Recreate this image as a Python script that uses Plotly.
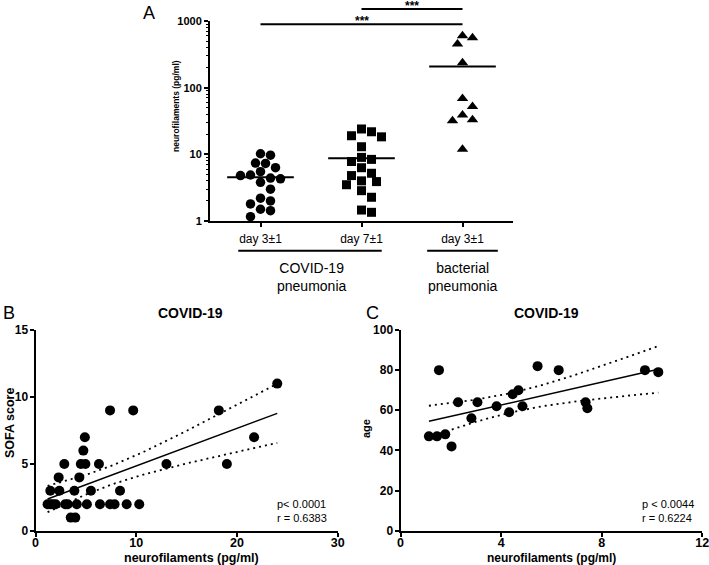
import numpy as np
import plotly.graph_objects as go

# ---------------- Data ----------------
# Panel A: neurofilaments (pg/ml) per group
cat_labels = ["day 3±1", "day 7±1", "day 3±1"]
covid_d3 = [9.7, 10.2, 7.3, 7.4, 6.3, 5.5, 4.8, 4.3, 4.4, 4.9, 3.8, 3.0, 2.0, 2.2, 1.5, 1.8, 1.43, 1.16]
covid_d7 = [24, 21.8, 18.3, 19, 13, 9.0, 7.8, 8.4, 6.3, 5.2, 4.8, 4.0, 3.5, 2.85, 3.9, 2.27, 1.35, 1.46]
bact_d3 = [600, 560, 450, 236, 69, 52, 39, 33, 32, 11.9]
group_labels = ["COVID-19<br>pneumonia", "bacterial<br>pneumonia"]
a_yticks = [1, 10, 100, 1000]

# Panel B: neurofilaments vs SOFA score
sofa_nfl = [24.0,
            7.4, 9.7, 18.2,
            4.9, 21.7,
            4.75,
            2.86, 4.5, 4.95, 6.3, 13.0, 19.0,
            2.3, 4.35,
            1.47, 2.37, 3.86, 5.5, 8.39,
            1.2, 1.45, 1.7, 2.0, 2.95, 3.2, 4.1, 5.1, 6.4, 7.4, 7.85, 9.05, 10.3,
            3.5, 3.95]
sofa_score = [11,
              9, 9, 9,
              7, 7,
              6,
              5, 5, 5, 5, 5, 5,
              4, 4,
              3, 3, 3, 3, 3,
              2, 2, 2, 2, 2, 2, 2, 2, 2, 2, 2, 2, 2,
              1, 1]
b_xticks = [0, 10, 20, 30]
b_yticks = [0, 5, 10, 15]
b_stats = "p< 0.0001<br>r = 0.6383"

# Panel C: neurofilaments vs age
age_nfl = [1.13, 1.45, 1.53, 1.78, 2.03, 2.29, 2.82, 3.06, 3.82, 4.32, 4.46, 4.69, 4.85,
           5.45, 6.29, 7.36, 7.43, 9.72, 10.25]
age_years = [47, 47, 80, 48, 42, 64, 56, 64, 62, 59, 68, 70, 62, 82, 80, 64, 61, 80, 79]
c_xticks = [0, 4, 8, 12]
c_yticks = [0, 20, 40, 60, 80, 100]
c_stats = "p < 0.0044<br>r = 0.6224"

W, H = 709, 565
FONT = "Liberation Sans, Arial, sans-serif"


def px_x(p):
    return p / W


def px_y(p):
    return 1 - p / H


def bold(v):
    return [f"<b>{t}</b>" for t in v]


# domains (pixels)
A_X = (210, 513)
A_Y = (21, 221)
B_X = (35.5, 337.7)
B_Y = (330, 531)
C_X = (400.5, 702.3)
C_Y = (330, 530.7)


def swarm(values, px_per_decade, px_per_cat, diam=9.6, step=5.0):
    vals = np.asarray(values, dtype=float)
    order = np.argsort(vals)[::-1]
    placed = []
    offs = np.zeros(len(vals))
    cands = [0.0] + [s * step * m for m in range(1, 30) for s in (1, -1)]
    for i in order:
        y = np.log10(vals[i]) * px_per_decade
        chosen = 0.0
        for c in cands:
            if all((c - px) ** 2 + (y - py) ** 2 >= diam ** 2 for px, py in placed):
                chosen = c
                break
        placed.append((chosen, y))
        offs[i] = chosen / px_per_cat
    return offs


def t975(df):
    z = 1.959964
    g1 = (z ** 3 + z) / 4
    g2 = (5 * z ** 5 + 16 * z ** 3 + 3 * z) / 96
    g3 = (3 * z ** 7 + 19 * z ** 5 + 17 * z ** 3 - 15 * z) / 384
    return z + g1 / df + g2 / df ** 2 + g3 / df ** 3


def regression(xv, yv):
    x = np.asarray(xv, float)
    y = np.asarray(yv, float)
    n = len(x)
    b, a = np.polyfit(x, y, 1)
    resid = y - (a + b * x)
    s = np.sqrt(np.sum(resid ** 2) / (n - 2))
    sxx = np.sum((x - x.mean()) ** 2)
    xs = np.linspace(x.min(), x.max(), 60)
    yh = a + b * xs
    se = s * np.sqrt(1 / n + (xs - x.mean()) ** 2 / sxx)
    t = t975(n - 2)
    return xs, yh, yh - t * se, yh + t * se


fig = go.Figure()

# ---------------- Panel A ----------------
px_per_decade = (A_Y[1] - A_Y[0]) / 3.0
px_per_cat = (A_X[1] - A_X[0]) / 3.0
groups = [(covid_d3, "circle", 9.5), (covid_d7, "square", 9), (bact_d3, "triangle-up", 10)]
for k, (vals, sym, size) in enumerate(groups):
    pos = k + 1
    offs = swarm(vals, px_per_decade, px_per_cat)
    fig.add_trace(go.Scatter(x=pos + offs, y=vals, mode="markers", xaxis="x", yaxis="y",
                             marker=dict(symbol=sym, size=size, color="black", line=dict(width=0)),
                             showlegend=False, cliponaxis=False, hoverinfo="skip"))
    m = float(np.mean(vals))
    fig.add_trace(go.Scatter(x=[pos - 0.33, pos + 0.33], y=[m, m], mode="lines",
                             xaxis="x", yaxis="y", line=dict(color="black", width=2),
                             showlegend=False, hoverinfo="skip"))

# ---------------- Panel B / C ----------------
for (xv, yv, xa, ya) in [(sofa_nfl, sofa_score, "x2", "y2"), (age_nfl, age_years, "x3", "y3")]:
    xs, yh, lo, hi = regression(xv, yv)
    for yy, dash, w in [(hi, "2px,4px", 1.8), (lo, "2px,4px", 1.8), (yh, "solid", 1.5)]:
        fig.add_trace(go.Scatter(x=xs, y=yy, mode="lines", xaxis=xa, yaxis=ya,
                                 line=dict(color="black", width=w, dash=dash),
                                 showlegend=False, hoverinfo="skip"))
    fig.add_trace(go.Scatter(x=xv, y=yv, mode="markers", xaxis=xa, yaxis=ya,
                             marker=dict(symbol="circle", size=10, color="black"),
                             showlegend=False, cliponaxis=False, hoverinfo="skip"))

axis_common = dict(showline=True, linewidth=2, linecolor="black", ticks="outside",
                   ticklen=4, tickwidth=1.5, tickcolor="black", showgrid=False,
                   zeroline=False, mirror=False, automargin=False,
                   ticklabeloverflow="allow")

fig.update_layout(
    width=W, height=H, margin=dict(l=0, r=0, t=0, b=0, pad=0, autoexpand=False),
    paper_bgcolor="white", plot_bgcolor="white",
    font=dict(family=FONT, color="black"),
    showlegend=False,
    xaxis=dict(domain=[px_x(A_X[0]), px_x(A_X[1])], range=[0.5, 3.5], anchor="y",
               tickvals=[1, 2, 3], ticktext=cat_labels, tickfont=dict(size=12),
               ticklabelstandoff=2, **axis_common),
    yaxis=dict(domain=[px_y(A_Y[1]), px_y(A_Y[0])], type="log", range=[0, 3], anchor="x",
               tickvals=a_yticks, ticktext=bold(a_yticks),
               tickfont=dict(size=11),
               minor=dict(ticks="outside", ticklen=2, tickwidth=1, tickcolor="black", dtick="D1"),
               **axis_common),
    xaxis2=dict(domain=[px_x(B_X[0]), px_x(B_X[1])], range=[0, 30], anchor="y2",
                tickvals=b_xticks, ticktext=bold(b_xticks), tickfont=dict(size=12.5),
                ticklabelstandoff=-5, **axis_common),
    yaxis2=dict(domain=[px_y(B_Y[1]), px_y(B_Y[0])], range=[0, 15], anchor="x2",
                tickvals=b_yticks, ticktext=bold(b_yticks), tickfont=dict(size=12),
                ticklabelstandoff=-1, **axis_common),
    xaxis3=dict(domain=[px_x(C_X[0]), px_x(C_X[1])], range=[0, 12], anchor="y3",
                tickvals=c_xticks, ticktext=bold(c_xticks), tickfont=dict(size=12.5),
                ticklabelstandoff=-5, **axis_common),
    yaxis3=dict(domain=[px_y(C_Y[1]), px_y(C_Y[0])], range=[0, 100], anchor="x3",
                tickvals=c_yticks, ticktext=bold(c_yticks), tickfont=dict(size=12),
                ticklabelstandoff=-1, **axis_common),
)

shapes = []
# significance bars
for (x0, x1, ypx) in [(1, 3, 24.3), (2, 3, 9)]:
    shapes.append(dict(type="line", xref="x", yref="paper", x0=x0, x1=x1,
                       y0=px_y(ypx), y1=px_y(ypx), line=dict(color="black", width=2)))
# group underlines
for (x0, x1) in [(0.78, 2.2), (2.65, 3.35)]:
    shapes.append(dict(type="line", xref="x", yref="paper", x0=x0, x1=x1,
                       y0=px_y(250.7), y1=px_y(250.7), line=dict(color="black", width=2)))
fig.update_layout(shapes=shapes)

ann = []


def text(x, y, s, size, bold=False, angle=0, xanchor="center", align="center", xref="paper"):
    ann.append(dict(x=x, y=y, xref=xref, yref="paper", text=s, showarrow=False,
                    textangle=angle, xanchor=xanchor, yanchor="middle", align=align,
                    font=dict(size=size, family=FONT, color="black",
                              weight="bold" if bold else "normal")))


# stars
text(2.0, px_y(21), "***", 12, bold=True, xref="x")
text(2.5, px_y(6), "***", 12, bold=True, xref="x")
# group labels
text(1.5, px_y(276.5), group_labels[0], 14, xref="x")
text(3.0, px_y(276.5), group_labels[1], 14, xref="x")
# panel letters
text(px_x(149), px_y(12.5), "A", 18)
text(px_x(9), px_y(313), "B", 18)
text(px_x(373), px_y(313), "C", 18)
# titles
text(px_x(190), px_y(313), "COVID-19", 14, bold=True)
text(px_x(546), px_y(313), "COVID-19", 14, bold=True)
# axis titles
text(px_x(176), px_y(106), "neurofilaments (pg/ml)", 8.5, bold=True, angle=-90)
text(px_x(10), px_y(423), "SOFA score", 12.5, bold=True, angle=-90)
text(px_x(191), px_y(558), "neurofilaments (pg/ml)", 12.5, bold=True)
text(px_x(366), px_y(429), "age", 11, bold=True, angle=-90)
text(px_x(551), px_y(558), "neurofilaments (pg/ml)", 12, bold=True)
# stats
text(px_x(275), px_y(510.5), b_stats, 11, xanchor="left", align="left")
text(px_x(640), px_y(510.5), c_stats, 11, xanchor="left", align="left")
fig.update_layout(annotations=ann)

fig.write_html("out.html", config={"displayModeBar": False},
               post_script="document.body.style.margin='0';document.body.style.padding='0';"
                           "document.body.style.overflow='hidden';")
